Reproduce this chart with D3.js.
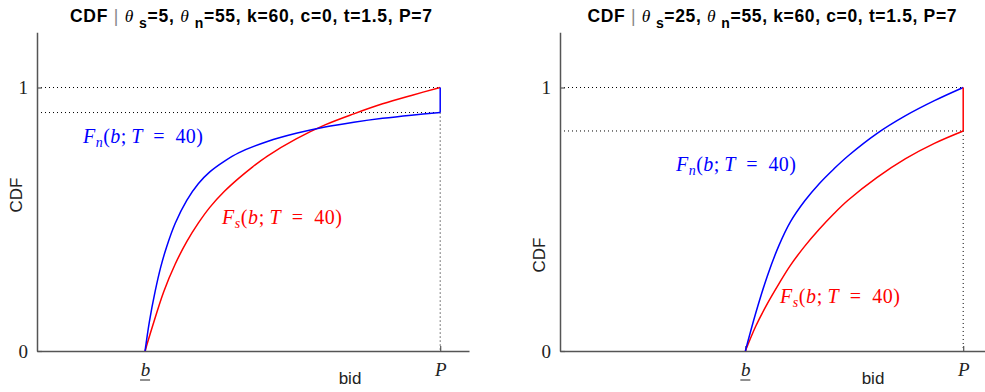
<!DOCTYPE html>
<html>
<head>
<meta charset="utf-8">
<script src="https://cdn.jsdelivr.net/npm/d3@7"></script>
<style>
  body { margin: 0; background: #fff; }
  svg { display: block; }
</style>
</head>
<body>
<svg id="chart" width="985" height="392"></svg>
<script>
// values (bid units, P = 7)
const P = 7;
const yTicks = [0, 1];

// left panel: theta_s = 5
const leftTitle = {ts: "5", tn: "55"};
const leftBLow = 1.876;
const leftBidN = [1.876, 1.95, 2.05, 2.15, 2.25, 2.4, 2.6, 2.8, 3.0, 3.25, 3.5, 4.0, 4.5, 5.0, 5.5, 6.0, 6.5, 7.0];
const leftFn   = [0, 0.11, 0.225, 0.32, 0.395, 0.485, 0.572, 0.635, 0.68, 0.72, 0.752, 0.795, 0.826, 0.85, 0.868, 0.883, 0.895, 0.905];
const leftBidS = [1.876, 2.0, 2.2, 2.4, 2.6, 2.8, 3.0, 3.25, 3.5, 3.75, 4.0, 4.5, 5.0, 5.5, 6.0, 6.5, 7.0];
const leftFs   = [0, 0.09, 0.225, 0.33, 0.415, 0.485, 0.545, 0.605, 0.655, 0.70, 0.74, 0.805, 0.858, 0.90, 0.938, 0.97, 1.0];

// right panel: theta_s = 25
const rightTitle = {ts: "25", tn: "55"};
const rightBLow = 3.218;
const rightBidN = [3.218, 3.4, 3.6, 3.8, 4.0, 4.25, 4.5, 4.75, 5.0, 5.5, 6.0, 6.5, 7.0];
const rightFn   = [0, 0.145, 0.285, 0.40, 0.49, 0.57, 0.635, 0.69, 0.74, 0.825, 0.893, 0.95, 1.0];
const rightBidS = [3.218, 3.4, 3.6, 3.8, 4.0, 4.25, 4.5, 4.75, 5.0, 5.5, 6.0, 6.5, 7.0];
const rightFs   = [0, 0.095, 0.18, 0.255, 0.325, 0.398, 0.462, 0.52, 0.572, 0.658, 0.73, 0.788, 0.835];

const svg = d3.select("#chart");
const serif = "'Liberation Serif', 'DejaVu Serif', serif";
const sans = "'Liberation Sans', Arial, sans-serif";

function mathLabel(g, x, y, sub, color) {
    const t = g.append("text")
        .attr("x", x).attr("y", y)
        .attr("fill", color)
        .attr("textLength", 120)
        .attr("lengthAdjust", "spacing")
        .style("font-family", serif)
        .style("font-size", "20px");
    t.append("tspan").style("font-style", "italic").text("F");
    t.append("tspan").style("font-style", "italic").style("font-size", "14px")
        .attr("dy", 4).text(sub);
    t.append("tspan").attr("dy", -4).text("(");
    t.append("tspan").style("font-style", "italic").text("b");
    t.append("tspan").text(";\u2009");
    t.append("tspan").style("font-style", "italic").text("T");
    t.append("tspan").text("\u2002=\u200240)");
}

function drawPanel(opt) {
    const x = d3.scaleLinear().domain([0, 7.5]).range([opt.left, opt.left + 432]);
    const y = d3.scaleLinear().domain([0, 1.21]).range([351, 351 - 1.21 * 263.5]);
    const g = svg.append("g");

    const fnEnd = opt.fn[opt.fn.length - 1];
    const fsEnd = opt.fs[opt.fs.length - 1];
    const low = Math.min(fnEnd, fsEnd);

    // dotted guides
    const guides = g.append("g")
        .attr("stroke", "#000")
        .attr("stroke-width", 1)
        .attr("stroke-dasharray", "1,3");
    guides.append("line")
        .attr("x1", x(0)).attr("x2", x(P)).attr("y1", y(1)).attr("y2", y(1));
    guides.append("line")
        .attr("x1", x(0)).attr("x2", x(P)).attr("y1", y(low)).attr("y2", y(low));
    guides.append("line")
        .attr("x1", x(P)).attr("x2", x(P)).attr("y1", y(low)).attr("y2", y(0));

    // axes
    const xAxis = g.append("g")
        .attr("transform", `translate(0,${y(0)})`)
        .call(d3.axisBottom(x).tickValues([opt.bLow, P]).tickSize(-5).tickSizeOuter(0)
            .tickFormat((d, i) => i === 0 ? "b" : "P"));
    const yAxis = g.append("g")
        .attr("transform", `translate(${x(0)},0)`)
        .call(d3.axisLeft(y).tickValues(yTicks).tickSize(-5).tickSizeOuter(0)
            .tickFormat(d3.format("d")));
    [xAxis, yAxis].forEach(a => {
        a.select(".domain").attr("stroke", "#555").attr("stroke-width", 1.5);
        a.selectAll(".tick line").attr("stroke", "#555").attr("stroke-width", 1.2);
        a.selectAll(".tick text")
            .attr("fill", "#222")
            .style("font-family", serif)
            .style("font-size", "19px");
    });
    xAxis.selectAll(".tick text").attr("y", 12).style("font-style", "italic");
    yAxis.selectAll(".tick text").attr("x", -9);
    // underline for lower bound b
    g.append("line")
        .attr("x1", x(opt.bLow) - 5).attr("x2", x(opt.bLow) + 5)
        .attr("y1", 380).attr("y2", 380)
        .attr("stroke", "#222").attr("stroke-width", 1);

    const line = d3.line().x(d => x(d[0])).y(d => y(d[1])).curve(d3.curveCatmullRom.alpha(0.5));
    const nPts = opt.bidN.map((b, i) => [b, opt.fn[i]]);
    const sPts = opt.bidS.map((b, i) => [b, opt.fs[i]]);

    g.append("path").datum(sPts).attr("d", line)
        .attr("fill", "none").attr("stroke", "red").attr("stroke-width", 1.5);
    g.append("path").datum(nPts).attr("d", line)
        .attr("fill", "none").attr("stroke", "blue").attr("stroke-width", 1.5);

    // jump at P
    g.append("line")
        .attr("x1", x(P)).attr("x2", x(P))
        .attr("y1", y(low)).attr("y2", y(1))
        .attr("stroke", fnEnd < fsEnd ? "blue" : "red").attr("stroke-width", 1.5);

    // labels
    mathLabel(g, opt.nLab[0], opt.nLab[1], "n", "blue");
    mathLabel(g, opt.sLab[0], opt.sLab[1], "s", "red");

    g.append("text")
        .attr("x", opt.bidX).attr("y", 384)
        .attr("text-anchor", "middle")
        .style("font-family", sans).style("font-size", "17px")
        .attr("fill", "#222")
        .text("bid");

    g.append("text")
        .attr("transform", `translate(${opt.left - 15},${opt.cdfY}) rotate(-90)`)
        .attr("text-anchor", "middle")
        .style("font-family", sans).style("font-size", "17px")
        .attr("fill", "#222")
        .text("CDF");

    // title
    const t = g.append("text")
        .attr("x", opt.titleX).attr("y", 22)
        .attr("text-anchor", "middle")
        .attr("textLength", opt.titleW)
        .attr("lengthAdjust", "spacing")
        .style("font-family", sans).style("font-size", "17.5px")
        .style("font-weight", "bold")
        .attr("fill", "#000");
    t.append("tspan").text("CDF ");
    t.append("tspan").style("font-weight", "normal").attr("fill", "#888").text("|");
    t.append("tspan").text(" ");
    t.append("tspan").style("font-family", serif).style("font-style", "italic")
        .style("font-weight", "normal").text("θ ");
    t.append("tspan").attr("dy", 6).style("font-size", "14px").text("s");
    t.append("tspan").attr("dy", -6).text("=" + opt.title.ts + ", ");
    t.append("tspan").style("font-family", serif).style("font-style", "italic")
        .style("font-weight", "normal").text("θ ");
    t.append("tspan").attr("dy", 6).style("font-size", "14px").text("n");
    t.append("tspan").attr("dy", -6).text("=" + opt.title.tn + ", k=60, c=0, t=1.5, P=7");
}

drawPanel({
    left: 37, bLow: leftBLow, title: leftTitle,
    bidN: leftBidN, fn: leftFn, bidS: leftBidS, fs: leftFs,
    nLab: [83, 143], sLab: [222, 224],
    bidX: 350, cdfY: 195, titleX: 251, titleW: 362
});
drawPanel({
    left: 560, bLow: rightBLow, title: rightTitle,
    bidN: rightBidN, fn: rightFn, bidS: rightBidS, fs: rightFs,
    nLab: [676, 171], sLab: [780, 303],
    bidX: 873, cdfY: 255, titleX: 772, titleW: 369
});
</script>
</body>
</html>
